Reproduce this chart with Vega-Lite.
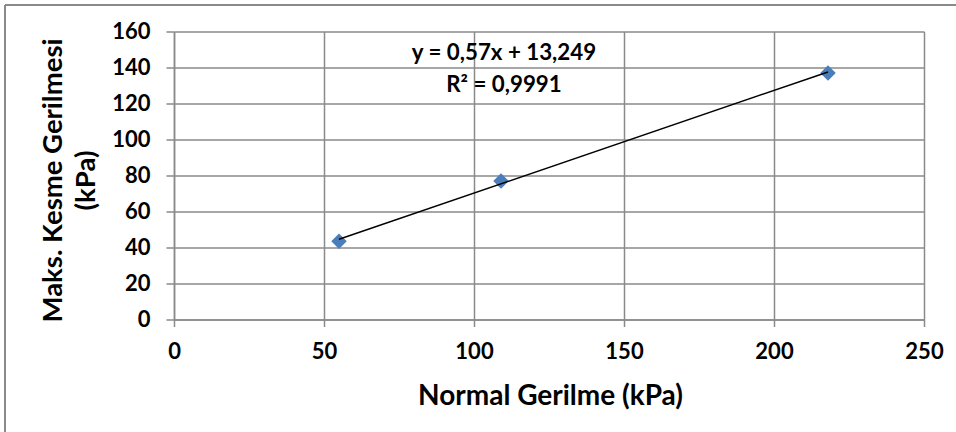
{
  "$schema": "https://vega.github.io/schema/vega-lite/v6.json",
  "width": 750,
  "height": 288,
  "autosize": {"type": "none"},
  "padding": {"left": 174, "top": 31.5, "right": 32, "bottom": 112.5},
  "background": "white",
  "config": {
    "view": {"stroke": null},
    "axisX": {
      "values": [0, 50, 100, 150, 200, 250], "tickCount": 6,
      "grid": true, "gridColor": "#8a8a8a", "gridWidth": 1.5,
      "domain": true, "domainColor": "#8a8a8a", "domainWidth": 1.5,
      "ticks": true, "tickSize": 7, "tickColor": "#8a8a8a", "tickWidth": 1.5,
      "labelFont": "Lato", "labelFontWeight": "bold", "labelFontSize": 22, "labelColor": "#000000", "labelPadding": 15,
      "labelOverlap": false, "labelFlush": false,
      "titleFont": "Lato", "titleFontWeight": "bold", "titleFontSize": 28, "titleColor": "#000000",
      "titleX": 376, "titleY": 84.5, "titleAlign": "center", "titleBaseline": "alphabetic", "titleAngle": 0
    },
    "axisY": {
      "values": [0, 20, 40, 60, 80, 100, 120, 140, 160], "tickCount": 9,
      "grid": true, "gridColor": "#8a8a8a", "gridWidth": 1.5,
      "domain": true, "domainColor": "#8a8a8a", "domainWidth": 1.5,
      "ticks": true, "tickSize": 8, "tickColor": "#8a8a8a", "tickWidth": 1.5,
      "labelFont": "Lato", "labelFontWeight": "bold", "labelFontSize": 22, "labelColor": "#000000", "labelPadding": 16,
      "labelOverlap": false, "labelFlush": false,
      "titleFont": "Lato", "titleFontWeight": "bold", "titleFontSize": 27.5, "titleColor": "#000000",
      "titleX": -135, "titleY": 148.5, "titleAlign": "center", "titleBaseline": "top", "titleAngle": -90, "titleLineHeight": 33
    }
  },
  "datasets": {
    "points": [
      {"normal": 55, "shear": 43.5},
      {"normal": 109, "shear": 77},
      {"normal": 218, "shear": 137}
    ],
    "one": [{}]
  },
  "layer": [
    {
      "data": {"name": "one"},
      "mark": {"type": "rule", "color": "#8a8a8a", "strokeWidth": 2, "clip": false},
      "encoding": {
        "x": {"datum": -56.333, "type": "quantitative", "scale": {"domain": [0, 250], "nice": false, "zero": false}, "axis": {"values": [0, 50, 100, 150, 200, 250], "title": "Normal Gerilme (kPa)"}},
        "y": {"datum": -62.5, "type": "quantitative", "scale": {"domain": [0, 160], "nice": false, "zero": false}, "axis": {"values": [0, 20, 40, 60, 80, 100, 120, 140, 160], "title": ["Maks. Kesme Gerilmesi", "(kPa)"]}},
        "y2": {"datum": 174.722}
      }
    },
    {
      "data": {"name": "one"},
      "mark": {"type": "rule", "color": "#8a8a8a", "strokeWidth": 2, "clip": false},
      "encoding": {
        "y": {"datum": 174.722, "type": "quantitative", "scale": {"domain": [0, 160], "nice": false, "zero": false}, "axis": {"values": [0, 20, 40, 60, 80, 100, 120, 140, 160], "title": ["Maks. Kesme Gerilmesi", "(kPa)"]}},
        "x": {"datum": -56.333, "type": "quantitative", "scale": {"domain": [0, 250], "nice": false, "zero": false}, "axis": {"values": [0, 50, 100, 150, 200, 250], "title": "Normal Gerilme (kPa)"}},
        "x2": {"datum": 260.667}
      }
    },
    {
      "data": {"name": "points"},
      "mark": {"type": "point", "shape": "diamond", "filled": true, "size": 240, "color": "#4a7ebb", "opacity": 1},
      "encoding": {
        "x": {"field": "normal", "type": "quantitative", "scale": {"domain": [0, 250], "nice": false, "zero": false}, "axis": {"values": [0, 50, 100, 150, 200, 250], "title": "Normal Gerilme (kPa)"}},
        "y": {"field": "shear", "type": "quantitative", "scale": {"domain": [0, 160], "nice": false, "zero": false}, "axis": {"values": [0, 20, 40, 60, 80, 100, 120, 140, 160], "title": ["Maks. Kesme Gerilmesi", "(kPa)"]}}
      }
    },
    {
      "data": {"name": "points"},
      "transform": [{"regression": "shear", "on": "normal"}],
      "mark": {"type": "line", "color": "#000000", "strokeWidth": 1.5},
      "encoding": {
        "x": {"field": "normal", "type": "quantitative", "scale": {"domain": [0, 250], "nice": false, "zero": false}, "axis": {"values": [0, 50, 100, 150, 200, 250], "title": "Normal Gerilme (kPa)"}},
        "y": {"field": "shear", "type": "quantitative", "scale": {"domain": [0, 160], "nice": false, "zero": false}, "axis": {"values": [0, 20, 40, 60, 80, 100, 120, 140, 160], "title": ["Maks. Kesme Gerilmesi", "(kPa)"]}}
      }
    },
    {
      "data": {"name": "one"},
      "mark": {"type": "text", "text": ["y = 0,57x + 13,249", "R² = 0,9991"], "font": "Lato", "fontWeight": "bold", "fontSize": 22.3, "lineHeight": 32, "align": "center", "baseline": "top", "color": "#000000"},
      "encoding": {
        "x": {"datum": 110, "type": "quantitative", "scale": {"domain": [0, 250], "nice": false, "zero": false}, "axis": {"values": [0, 50, 100, 150, 200, 250], "title": "Normal Gerilme (kPa)"}},
        "y": {"datum": 154.1, "type": "quantitative", "scale": {"domain": [0, 160], "nice": false, "zero": false}, "axis": {"values": [0, 20, 40, 60, 80, 100, 120, 140, 160], "title": ["Maks. Kesme Gerilmesi", "(kPa)"]}}
      }
    }
  ]
}
